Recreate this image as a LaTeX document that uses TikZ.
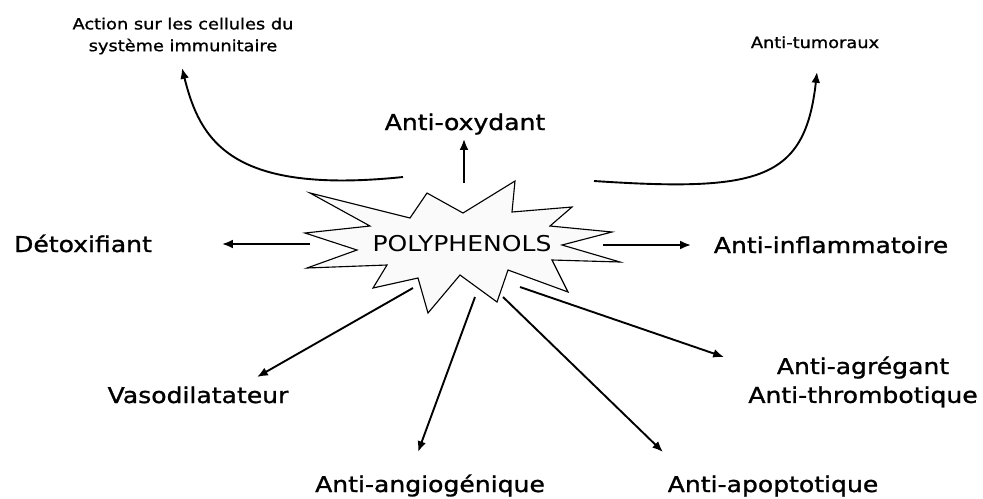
\documentclass[tikz,border=0pt]{standalone}
\usepackage{fontspec}
\setmainfont[FakeStretch=1.15]{DejaVu Sans}
\newfontfamily\labelfont[FakeStretch=1.15, FakeBold=1.2]{DejaVu Sans}
\usetikzlibrary{arrows.meta}

\begin{document}
\begin{tikzpicture}[x=0.25mm, y=-0.25mm,
  effect/.style={font=\labelfont\fontsize{15.5}{20.5}\selectfont, anchor=base, inner sep=0pt, align=center},
  small/.style={font=\labelfont\fontsize{11}{15.5}\selectfont, inner sep=0pt, align=center},
  arrow/.style={-{Latex[length=2.7mm, width=2.2mm]}, line width=1.35pt},
  burst/.style={draw, fill=gray!4, line width=0.8pt, line join=miter}
]
  \useasboundingbox (0,0) rectangle (983,498);

  \draw[burst] (310,193) -- (370,226) -- (305,233) -- (357,250) -- (307,268) -- (387,265)
    -- (373,288) -- (418,278) -- (428,313) -- (460,275) -- (497,302) -- (508,270)
    -- (568,292) -- (552,260) -- (620,262) -- (562,245) -- (612,232) -- (550,226)
    -- (572,207) -- (512,212) -- (515,181) -- (463,213) -- (427,193) -- (410,218) -- cycle;
  \node[effect, font=\fontsize{15.5}{20.5}\selectfont] (poly) at (462,251) {POLYPHENOLS};

  \node[effect] (oxy)    at (465,130) {Anti-oxydant};
  \node[effect] (detox)  at (83,252)  {Détoxifiant};
  \node[effect] (inflam) at (831,253) {Anti-inflammatoire};
  \node[effect] (vaso)   at (198,403) {Vasodilatateur};
  \node[effect] (angio)  at (430,492) {Anti-angiogénique};
  \node[effect] (apop)   at (773,492) {Anti-apoptotique};
  \node[effect, anchor=center] (agreg) at (863,382) {Anti-agrégant\\Anti-thrombotique};
  \node[small] (immun)   at (183,36)  {Action sur les cellules du\\système immunitaire};
  \node[small, anchor=base] (tumor) at (815,48) {Anti-tumoraux};

  \coordinate (p-oxy)    at (464,183);
  \coordinate (p-detox)  at (310,244);
  \coordinate (p-inflam) at (603,245);
  \coordinate (p-vaso)   at (413,288);
  \coordinate (p-angio)  at (475,297);
  \coordinate (p-apop)   at (503,297);
  \coordinate (p-agreg)  at (520,287);
  \coordinate (p-immun)  at (403,177);
  \coordinate (p-tumor)  at (594,181);

  \coordinate (t-oxy)    at (464,139);
  \coordinate (t-detox)  at (222,244);
  \coordinate (t-inflam) at (691,245);
  \coordinate (t-vaso)   at (257,377);
  \coordinate (t-angio)  at (418,452);
  \coordinate (t-apop)   at (663,452);
  \coordinate (t-agreg)  at (724,357);
  \coordinate (t-immun)  at (182,68);
  \coordinate (t-tumor)  at (817,72);

  \draw[arrow] (p-oxy) -- (t-oxy);
  \draw[arrow] (p-detox) -- (t-detox);
  \draw[arrow] (p-inflam) -- (t-inflam);
  \draw[arrow] (p-vaso) -- (t-vaso);
  \draw[arrow] (p-angio) -- (t-angio);
  \draw[arrow] (p-apop) -- (t-apop);
  \draw[arrow] (p-agreg) -- (t-agreg);
  \draw[arrow] (p-immun) .. controls (230,195) and (200,140) .. (t-immun);
  \draw[arrow] (p-tumor) .. controls (760,192) and (805,180) .. (t-tumor);
\end{tikzpicture}
\end{document}
